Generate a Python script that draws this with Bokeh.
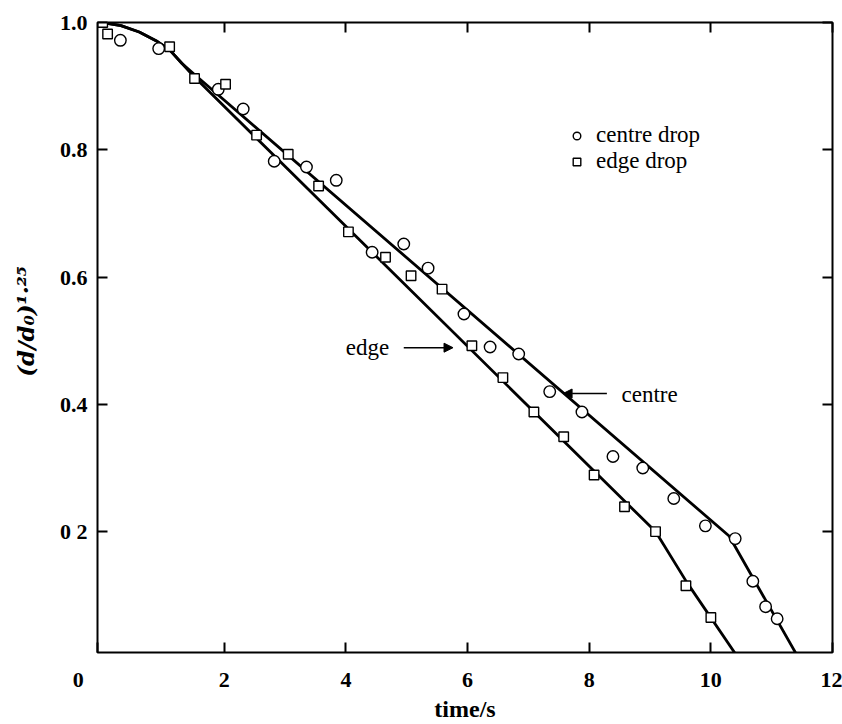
from bokeh.plotting import figure
from bokeh.models import (FixedTicker, LinearAxis, Label, Arrow, NormalHead,
                          Legend, LegendItem, Range1d)
from bokeh.embed import file_html
from bokeh.resources import INLINE

# measured points
centre_t = [0.29, 0.92, 1.90, 2.31, 2.82, 3.35, 3.84, 4.43, 4.95, 5.35, 5.94, 6.37,
            6.84, 7.35, 7.88, 8.39, 8.88, 9.39, 9.91, 10.40, 10.69, 10.90, 11.09]
centre_v = [0.972, 0.959, 0.895, 0.864, 0.782, 0.773, 0.752, 0.639, 0.652, 0.614, 0.542,
            0.490, 0.479, 0.420, 0.388, 0.318, 0.300, 0.252, 0.209, 0.189, 0.122, 0.082, 0.063]
edge_t = [0.0, 0.08, 1.10, 1.51, 2.02, 2.53, 3.05, 3.55, 4.04, 4.65, 5.07, 5.58, 6.07,
          6.58, 7.09, 7.58, 8.08, 8.58, 9.09, 9.59, 10.0]
edge_v = [1.0, 0.982, 0.962, 0.912, 0.903, 0.823, 0.793, 0.743, 0.671, 0.631, 0.602, 0.581,
          0.492, 0.442, 0.388, 0.349, 0.289, 0.239, 0.200, 0.115, 0.065]

# model curves
edge_fit_t = [0.0, 0.3, 0.6, 0.9, 1.1, 1.3, 1.5, 9.09, 9.6, 10.46]
edge_fit_v = [1.0, 0.995, 0.985, 0.970, 0.957, 0.936, 0.915, 0.200, 0.121, 0.0]
centre_fit_t = [0.0, 0.3, 0.6, 0.9, 1.1, 1.3, 1.5, 10.3, 11.45]
centre_fit_v = [1.0, 0.995, 0.985, 0.970, 0.957, 0.936, 0.919, 0.193, 0.0]

X_START, X_END = -0.086, 12.0
Y_START, Y_END = 0.01, 1.0
x_ticks = [X_START, 2, 4, 6, 8, 10, 12]
x_tick_labels = ["0" + "\u00a0" * 7, "2", "4", "6", "8", "10", "12"]
y_ticks = [0.2, 0.4, 0.6, 0.8, 1.0]
y_tick_labels = ["0 2", "0.4", "0.6", "0.8", "1.0"]
x_title = "time/s"
y_title = "\u00a0" * 4 + "(d/d\u2080)\u00b9\u00b7\u00b2\u2075"

# annotations: (text, x, y) and arrows (x_start, x_end, y)
edge_note = ("edge", 4.71, 0.489)
edge_arrow = (4.95, 5.76, 0.489)
centre_note = ("centre", 8.53, 0.416)
centre_arrow = (8.29, 7.57, 0.417)

SERIF = "Liberation Serif"

p = figure(width=842, height=724, x_range=Range1d(X_START, X_END),
           y_range=Range1d(Y_START, Y_END),
           output_backend="svg", toolbar_location=None,
           min_border_left=97, min_border_right=10, min_border_top=22, min_border_bottom=71)
p.grid.visible = False
p.outline_line_color = "black"
p.outline_line_width = 2
p.background_fill_color = "white"
p.border_fill_color = "white"

xa = p.xaxis[0]
xa.ticker = FixedTicker(ticks=x_ticks)
xa.major_label_overrides = {t: l for t, l in zip(x_ticks, x_tick_labels)}
xa.axis_label = x_title
ya = p.yaxis[0]
ya.ticker = FixedTicker(ticks=y_ticks)
ya.major_label_overrides = {t: l for t, l in zip(y_ticks, y_tick_labels)}
ya.axis_label = y_title

for ax in (xa, ya):
    ax.axis_line_color = None
    ax.major_tick_in = 10
    ax.major_tick_out = 0
    ax.major_tick_line_width = 2
    ax.minor_tick_line_color = None
    ax.major_label_text_font = SERIF
    ax.major_label_text_font_style = "bold"
    ax.major_label_text_font_size = "22px"
    ax.major_label_text_color = "black"
    ax.axis_label_text_color = "black"

xa.major_label_standoff = 14
xa.axis_label_text_font = SERIF
xa.axis_label_text_font_style = "bold"
xa.axis_label_text_font_size = "24px"
xa.axis_label_standoff = 1
ya.major_label_standoff = 10
ya.axis_label_text_font = "DejaVu Serif"
ya.axis_label_text_font_style = "bold italic"
ya.axis_label_text_font_size = "23px"
ya.axis_label_standoff = 18

# top and right tick-only axes (no labels)
top = LinearAxis(ticker=FixedTicker(ticks=x_ticks[1:]))
top.major_label_overrides = {t: "" for t in x_ticks[1:]}
right = LinearAxis(ticker=FixedTicker(ticks=y_ticks))
right.major_label_overrides = {t: "" for t in y_ticks}
for ax in (top, right):
    ax.axis_line_color = None
    ax.major_tick_in = 10
    ax.major_tick_out = 0
    ax.major_tick_line_width = 2
    ax.minor_tick_line_color = None
    ax.major_label_text_font_size = "1px"
    ax.major_label_standoff = 0
p.add_layout(top, "above")
p.add_layout(right, "right")

# model curves
p.line(edge_fit_t, edge_fit_v, line_color="black", line_width=2.8)
p.line(centre_fit_t, centre_fit_v, line_color="black", line_width=2.8)

# data markers
rc = p.scatter(centre_t, centre_v, marker="circle", size=11.5, fill_color="white",
               line_color="black", line_width=1.4)
re = p.scatter(edge_t, edge_v, marker="square", size=9.5, fill_color="white",
               line_color="black", line_width=1.4)

legend = Legend(items=[LegendItem(label="centre drop", renderers=[rc]),
                       LegendItem(label="edge drop", renderers=[re])],
                location=(470, 478), border_line_color=None, background_fill_alpha=0,
                padding=0, margin=0, spacing=0, glyph_width=19, glyph_height=25,
                label_height=25, label_standoff=10, label_text_font=SERIF,
                label_text_font_size="23px", label_text_baseline="middle",
                label_text_color="black")
p.add_layout(legend)

# annotations
for (txt, x, y), align in ((edge_note, "right"), (centre_note, "left")):
    p.add_layout(Label(x=x, y=y, text=txt, text_font=SERIF, text_font_size="23px",
                       text_align=align, text_baseline="middle", text_color="black"))
for (x0, x1, y) in (edge_arrow, centre_arrow):
    p.add_layout(Arrow(x_start=x0, y_start=y, x_end=x1, y_end=y, line_width=1.5,
                       end=NormalHead(size=9, fill_color="black", line_color="black")))

open("out.html", "w").write(file_html(p, INLINE))
